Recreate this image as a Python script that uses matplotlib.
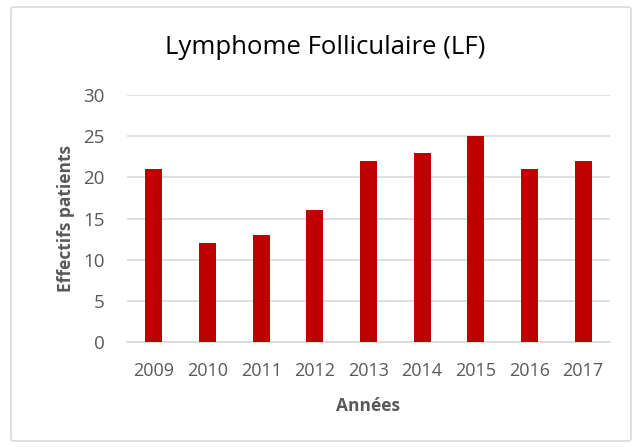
import matplotlib as mpl
mpl.use('Agg')
import matplotlib.pyplot as plt
from matplotlib.patches import FancyBboxPatch

# Data
years = ['2009', '2010', '2011', '2012', '2013', '2014', '2015', '2016', '2017']
effectifs = [21, 12, 13, 16, 22, 23, 25, 21, 22]

title = 'Lymphome Folliculaire (LF)'
xlabel = 'Années'
ylabel = 'Effectifs patients'

bar_color = '#C00000'
text_color = '#595959'
grid_color = '#D9D9D9'

plt.rcParams['font.family'] = ['Open Sans', 'DejaVu Sans']

W, H = 642, 447
fig = plt.figure(figsize=(W / 100, H / 100), dpi=100)

# Chart frame (behind the axes)
frame = FancyBboxPatch((11 / W, 6 / H), 620 / W, 434 / H,
                       boxstyle='round,pad=0,rounding_size=0.006',
                       transform=fig.transFigure, facecolor='white',
                       edgecolor=grid_color, linewidth=1.2, zorder=-5)
fig.patches.append(frame)

# Plot area
ax = fig.add_axes([127 / W, 1 - 342 / H, 483 / W, 247 / H])
ax.set_zorder(2)
ax.bar(range(len(years)), effectifs, width=0.32, color=bar_color, zorder=3)

ax.set_xlim(-0.5, len(years) - 0.5)
ax.set_ylim(0, 30)
ax.set_yticks(range(0, 31, 5))
ax.set_xticks(range(len(years)))
ax.set_xticklabels(years)

ax.yaxis.grid(True, color=grid_color, linewidth=1.2, zorder=0)
ax.set_axisbelow(True)
for side in ['top', 'right', 'left']:
    ax.spines[side].set_visible(False)
ax.spines['bottom'].set_color(grid_color)
ax.spines['bottom'].set_linewidth(1.2)
ax.tick_params(axis='both', length=0, colors=text_color)
ax.tick_params(axis='y', labelsize=13.5, pad=16)
ax.tick_params(axis='x', labelsize=13, pad=14.5)
ax.patch.set_alpha(0)

ax.set_xlabel(xlabel, fontsize=12.5, fontweight='bold', color=text_color, labelpad=12)
ax.set_ylabel(ylabel, fontsize=12.5, fontweight='bold', color=text_color, labelpad=6)

fig.text(325 / W, 1 - 47 / H, title, ha='center', va='center', fontsize=18.5,
         color='black', zorder=3)

fig.savefig('out.png', dpi=100)
